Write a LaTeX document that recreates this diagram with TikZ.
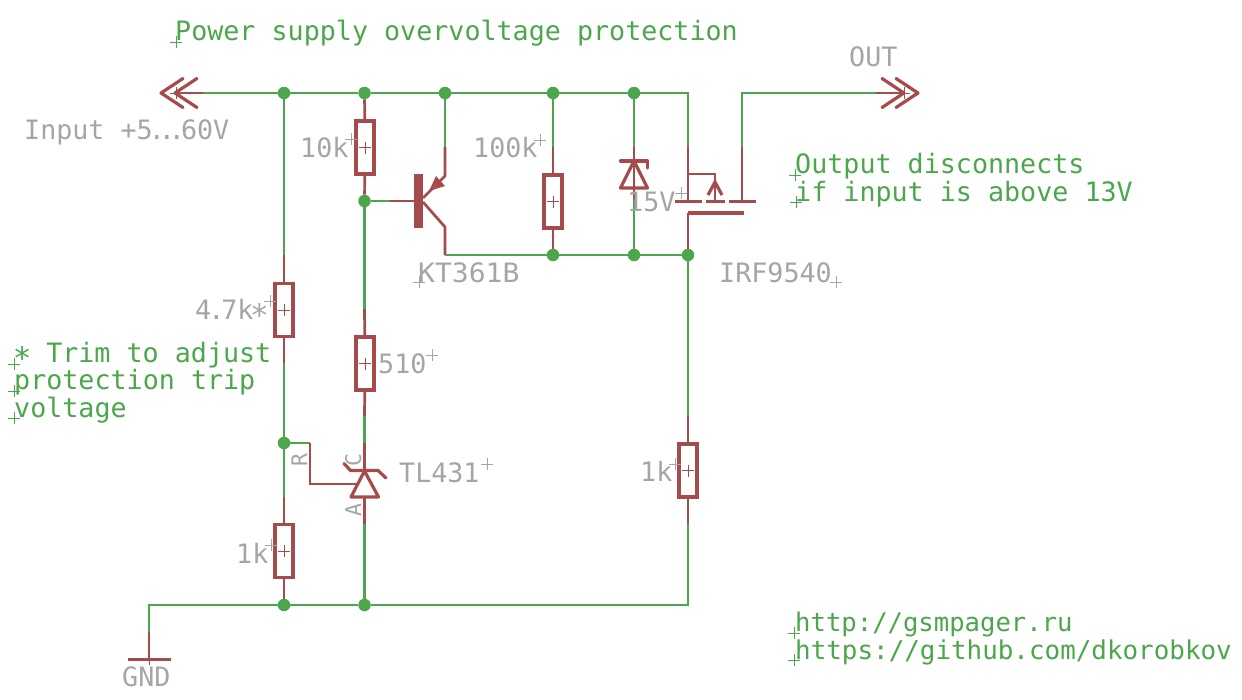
\documentclass[tikz,border=0pt]{standalone}
\usepackage{fontspec}
\newfontfamily\eaglemono{DejaVu Sans Mono}
\usepackage{xcolor}
\usepackage{tikz}
\usetikzlibrary{positioning, calc}
\definecolor{netgreen}{HTML}{4CA64C}
\definecolor{symred}{HTML}{A54B4B}
\definecolor{txtgray}{HTML}{A5A5A5}
\newcommand{\trimstar}{\makebox[16pt][c]{\smash{\raisebox{-7pt}{\fontsize{31}{31}\selectfont *}}}}
\tikzset{wire/.style={netgreen, line width=2.7pt}}
\tikzset{lead/.style={symred, line width=2.7pt}}
\tikzset{symb/.style={symred, line width=3.2pt, line cap=round, line join=round}}
\tikzset{junc/.style={circle, fill=netgreen, inner sep=0pt, minimum size=12.5pt}}
\tikzset{res/.style={rectangle, draw=symred, line width=3.4pt, inner sep=0pt, outer sep=0pt, minimum width=18pt, minimum height=53pt}}
\tikzset{notetxt/.style={anchor=base west, inner sep=0pt, text=netgreen, font=\eaglemono\fontsize{26.7}{26.7}\selectfont}}
\tikzset{valtxt/.style={anchor=base west, inner sep=0pt, text=txtgray, font=\eaglemono\fontsize{26.7}{26.7}\selectfont}}
\tikzset{pintxt/.style={anchor=base west, inner sep=0pt, text=txtgray, rotate=90, font=\eaglemono\fontsize{21.5}{21.5}\selectfont}}
\tikzset{orig/.pic={\draw[line width=.8pt, pic actions] (-6,0) -- (6,0) (0,-6) -- (0,6);}}
\tikzset{dblchev/.pic={\draw[symb] (22,-14.5) -- (0,0) -- (22,14.5) (36,-14.5) -- (14,0) -- (36,14.5);}}
\begin{document}
\begin{tikzpicture}[x=1pt, y=-1pt]
  \useasboundingbox (0,0) rectangle (1242,699);

  % junctions
  \node[junc] (jt1) at (284,93) {};
  \node[junc] (jt2) at (364.5,93) {};
  \node[junc] (jt3) at (445,93) {};
  \node[junc] (jt4) at (553,93) {};
  \node[junc] (jt5) at (634,93) {};
  \node[junc] (jbase) at (364.5,201) {};
  \node[junc] (jc1) at (553,255) {};
  \node[junc] (jc2) at (634,255) {};
  \node[junc] (jc3) at (688,255) {};
  \node[junc] (jref) at (284,443) {};
  \node[junc] (jb1) at (284,605) {};
  \node[junc] (jb2) at (364.5,605) {};

  % resistors
  \node[res] (r47) at (284,310) {};
  \node[res] (r10) at (365,147.5) {};
  \node[res] (r100) at (553,201.5) {};
  \node[res] (r510) at (365,363.5) {};
  \node[res] (r1a) at (284,551) {};
  \node[res] (r1b) at (688,470.5) {};

  % wire ends
  \coordinate (inpin) at (203,93);
  \coordinate (intip) at (175,93);
  \coordinate (mSt) at (688,93);
  \coordinate (mSp) at (688,147);
  \coordinate (mDt) at (742,93);
  \coordinate (mDp) at (742,147);
  \coordinate (outpin) at (876,93);
  \coordinate (outtip) at (904,93);
  \coordinate (qEp) at (445,147);
  \coordinate (qCp) at (445,255);
  \coordinate (qBp) at (390,201);
  \coordinate (r100t) at (553,147);
  \coordinate (zTp) at (634,147);
  \coordinate (zBp) at (634,201);
  \coordinate (r47t) at (284,255);
  \coordinate (r47b) at (284,363);
  \coordinate (r510t) at (364.5,309);
  \coordinate (r510b) at (364.5,416);
  \coordinate (r1at) at (284,497);
  \coordinate (tlKp) at (364.5,443);
  \coordinate (tlAp) at (364.5,524);
  \coordinate (tlRp) at (310,443);
  \coordinate (r1bt) at (688,416);
  \coordinate (r1bb) at (688,524);
  \coordinate (gndc) at (149,605);
  \coordinate (gndp) at (149,632);
  \coordinate (gndt) at (149,659);
  \coordinate (botr) at (688,605);

  % nets
  \draw[wire] (inpin) -- (jt1);
  \draw[wire] (jt1) -- (jt2);
  \draw[wire] (jt2) -- (jt3);
  \draw[wire] (jt3) -- (jt4);
  \draw[wire] (jt4) -- (jt5);
  \draw[wire, line join=miter] (jt5) -- (mSt) -- (mSp);
  \draw[wire, line join=miter] (mDp) -- (mDt) -- (outpin);
  \draw[wire] (jt3) -- (qEp);
  \draw[wire] (jt4) -- (r100t);
  \draw[wire] (jt5) -- (zTp);
  \draw[wire] (zBp) -- (jc2);
  \draw[wire] (qCp) -- (jc1);
  \draw[wire] (jc1) -- (jc2);
  \draw[wire] (jc2) -- (jc3);
  \draw[wire] (jc3) -- (r1bt);
  \draw[wire] (jt1) -- (r47t);
  \draw[wire] (r47b) -- (jref);
  \draw[wire] (jref) -- (r1at);
  \draw[wire] (jref) -- (tlRp);
  \draw[wire] (jbase) -- (qBp);
  \draw[wire] (jbase) -- (r510t);
  \draw[wire] (r510b) -- (tlKp);
  \draw[wire] (tlAp) -- (jb2);
  \draw[wire, line join=miter] (gndp) -- (gndc) -- (jb1);
  \draw[wire] (jb1) -- (jb2);
  \draw[wire, line join=miter] (jb2) -- (botr) -- (r1bb);

  % resistor leads
  \draw[lead] (jt2) -- (r10);
  \draw[lead] (r10) -- (jbase);
  \draw[lead] (r100t) -- (r100);
  \draw[lead] (r100) -- (jc1);
  \draw[lead] (r47t) -- (r47);
  \draw[lead] (r47) -- (r47b);
  \draw[lead] (r510t) -- (r510);
  \draw[lead] (r510) -- (r510b);
  \draw[lead] (r1at) -- (r1a);
  \draw[lead] (r1a) -- (jb1);
  \draw[lead] (r1bt) -- (r1b);
  \draw[lead] (r1b) -- (r1bb);

  % in and out
  \draw[lead] (inpin) -- (intip);
  \pic at (161,93) {dblchev};
  \draw[lead] (outpin) -- (outtip);
  \pic[xscale=-1] at (918,93) {dblchev};

  % KT361B
  \draw[lead] (qBp) -- (414,201);
  \fill[symred] (414,174) rectangle (423,228);
  \draw[lead, line join=round] (qEp) -- (445,176) -- (423,198);
  \draw[lead, line join=round] (423,202) -- (445,227) -- (qCp);
  \fill[symred] (429,191) -- (436,176) -- (445,186) -- cycle;

  % zener
  \draw[lead] (zTp) -- (zBp);
  \draw[symb] (634,161) -- (620.5,188) -- (647.5,188) -- cycle;
  \draw[symb] (620.5,161) -- (647.5,161) -- (647.5,168);

  % IRF9540
  \draw[lead] (mSp) -- (688,201);
  \draw[lead] (mDp) -- (742,201);
  \draw[lead, line width=2pt] (688,174) -- (715,174) -- (715,201);
  \draw[symb, line cap=butt, line join=miter] (708,195) -- (715,182) -- (722,195);
  \draw[symb, line cap=butt] (675,201.5) -- (702,201.5) (706,201.5) -- (725,201.5) (729,201.5) -- (756,201.5);
  \draw[symb, line cap=butt] (744,213) -- (688,213);
  \draw[lead] (688,213) -- (jc3);

  % TL431
  \draw[lead] (tlKp) -- (364.5,471);
  \draw[lead] (364.5,497) -- (tlAp);
  \draw[lead, line width=2pt, line join=miter] (tlRp) -- (310,484) -- (358,484);
  \draw[symb] (364.5,471) -- (351,497) -- (378.5,497) -- cycle;
  \draw[symb] (344,463.5) -- (350.5,470.5) -- (378,470.5) -- (386,478);

  % GND
  \draw[lead] (gndp) -- (gndt);
  \draw[symb, line cap=butt] (128,659.5) -- (171,659.5);

  % values and names
  \node[valtxt] (tIn) at (24,139) {Input +5\kern-4pt.\kern-6pt.\kern-6pt.\kern-4pt 60V};
  \node[valtxt] (tOut) at (849,66) {OUT};
  \node[valtxt] (t10k) at (300,157) {10k};
  \node[valtxt] (t100k) at (473,157) {100k};
  \node[valtxt] (tZ) at (627,211) {15V};
  \node[valtxt] (tQ) at (418,282) {\scalebox{1.05}[1]{KT361B}};
  \node[valtxt] (tM) at (719,282) {IRF9540};
  \node[valtxt] (t47) at (195,319) {4\kern-3pt.\kern-3pt 7k\kern-2pt\trimstar};
  \node[valtxt] (t510) at (378,373) {510};
  \node[valtxt] (tTL) at (399,482) {TL431};
  \node[valtxt] (t1kb) at (642,481) {\kern-2pt 1k};
  \node[valtxt] (t1ka) at (238,563) {\kern-2pt 1k};
  \node[valtxt] (tGnd) at (122,686) {GND};
  \node[pintxt] (tR) at (307,467) {R};
  \node[pintxt] (tC) at (361,467) {C};
  \node[pintxt] (tA) at (361,517) {A};

  % notes
  \node[notetxt] (nTitle) at (175,40) {Power supply overvoltage protection};
  \node[notetxt] (nOut) at (795,173) {Output disconnects};
  \node[notetxt] (nIf) at (795,201) {if input is above 13V};
  \node[notetxt] (nTrim) at (14,362) {\trimstar\ Trim to adjust};
  \node[notetxt] (nProt) at (14,389) {protection trip};
  \node[notetxt] (nVolt) at (14,417) {voltage};
  \node[notetxt, font=\eaglemono\fontsize{25.6}{25.6}\selectfont] (nUrl) at (795,631) {http://gsmpager.ru};
  \node[notetxt, font=\eaglemono\fontsize{25.9}{25.9}\selectfont] (nGit) at (795,659) {https://github.com/dkorobkov};

  % origin marks
  \foreach \px/\py in {176/42, 795/175, 796/202, 14/364, 14/391, 14/418, 794/633, 794/660}
    \pic[netgreen] at (\px,\py) {orig};
  \foreach \px/\py in {351/139, 540/140, 681/193, 419/282, 836/282, 270/301, 432/355, 487/464, 675/464, 271/545}
    \pic[txtgray] at (\px,\py) {orig};
  \foreach \px/\py in {176/93, 904/93, 365/147.5, 553/201.5, 284/310, 365/363.5, 284/551, 688/470.5, 149/659}
    \pic[symred] at (\px,\py) {orig};
\end{tikzpicture}
\end{document}
